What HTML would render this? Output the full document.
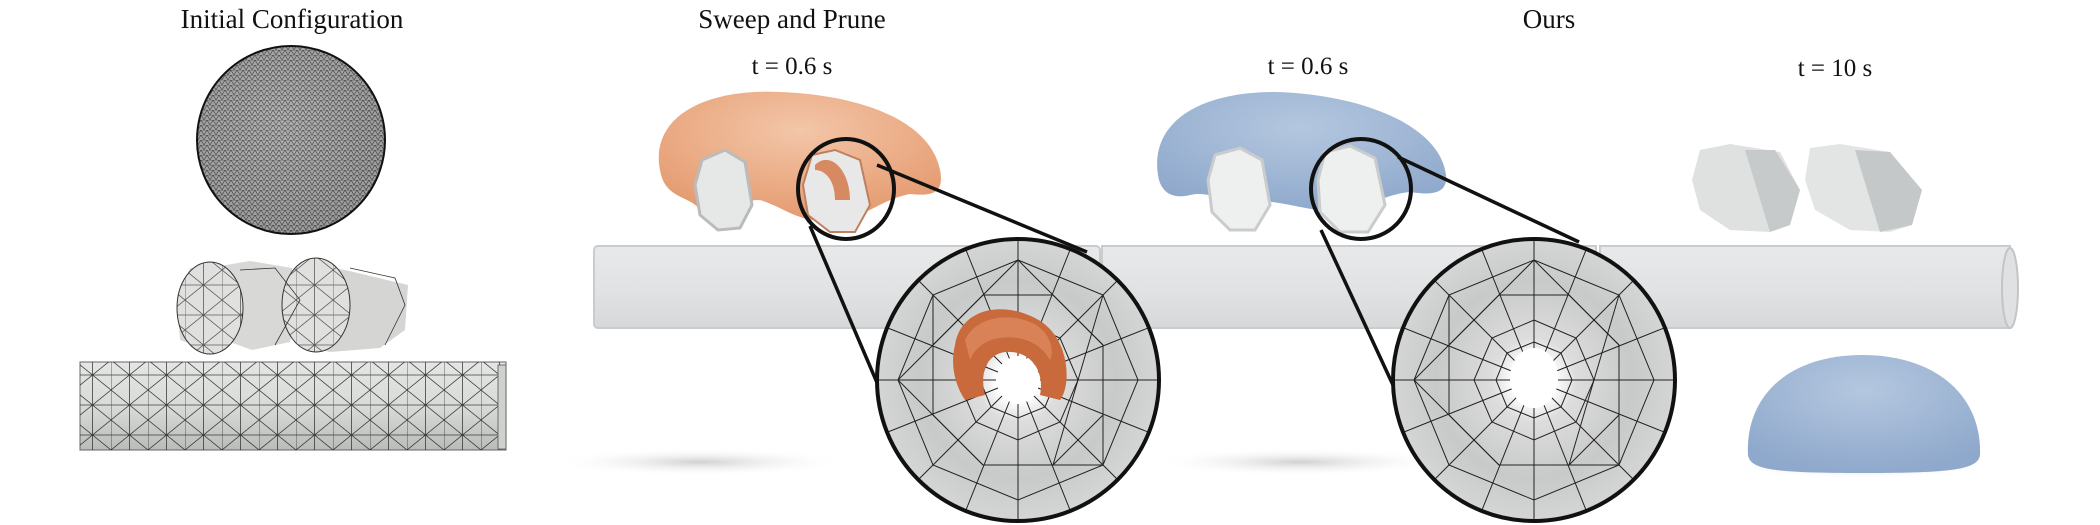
<!DOCTYPE html>
<html><head><meta charset="utf-8"><style>
html,body{margin:0;padding:0;background:#fff;width:2100px;height:525px;overflow:hidden}
svg{display:block}
text{font-family:"Liberation Serif",serif;fill:#111}
</style></head><body>
<svg width="2100" height="525" viewBox="0 0 2100 525" xmlns="http://www.w3.org/2000/svg">
<defs>
<pattern id="fine" width="6" height="5" patternUnits="userSpaceOnUse">
<rect width="6" height="5" fill="#a8a8a8"/>
<path d="M0 5L3 0L6 5M0 0H6" stroke="#222" stroke-width="0.6" fill="none"/>
</pattern>
<pattern id="tri" width="37" height="30" patternUnits="userSpaceOnUse">
<path d="M0 0L37 30M37 0L0 30M0 0V30M18.5 0V30M0 15H37" stroke="#222" stroke-width="0.8" fill="none"/>
</pattern>
<linearGradient id="cylg" x1="0" y1="0" x2="0" y2="1">
<stop offset="0" stop-color="#e4e6e4"/><stop offset="0.5" stop-color="#d9dbd9"/><stop offset="1" stop-color="#b9bcb9"/></linearGradient>
<radialGradient id="sph" cx="0.45" cy="0.4" r="0.6">
<stop offset="0" stop-color="#c8c8c8"/><stop offset="1" stop-color="#777"/></radialGradient>
<linearGradient id="rod" x1="0" y1="0" x2="0" y2="1">
<stop offset="0" stop-color="#e8e9ea"/><stop offset="0.5" stop-color="#e2e3e4"/><stop offset="1" stop-color="#d6d8da"/></linearGradient>
<radialGradient id="tun" cx="0.5" cy="0.5" r="0.5">
<stop offset="0" stop-color="#fff"/><stop offset="0.15" stop-color="#fff"/><stop offset="0.3" stop-color="#ddd"/><stop offset="0.7" stop-color="#c8c9c9"/><stop offset="1" stop-color="#d4d5d5"/></radialGradient>
<radialGradient id="orng" cx="0.5" cy="0.3" r="0.7">
<stop offset="0" stop-color="#f3c6a8"/><stop offset="1" stop-color="#e59a6f"/></radialGradient>
<radialGradient id="blu" cx="0.5" cy="0.3" r="0.7">
<stop offset="0" stop-color="#b4c7df"/><stop offset="1" stop-color="#8fa9cc"/></radialGradient>
<radialGradient id="shadow" cx="0.5" cy="0.5" r="0.5">
<stop offset="0" stop-color="#d0d0d0"/><stop offset="1" stop-color="#fff" stop-opacity="0"/></radialGradient>
<clipPath id="c1"><circle cx="1018" cy="380" r="140"/></clipPath>
<clipPath id="c2"><circle cx="1534" cy="380" r="140"/></clipPath>
<clipPath id="sc"><circle cx="291" cy="140" r="93"/></clipPath>
<clipPath id="cb"><rect x="80" y="362" width="426" height="88"/></clipPath>
<g id="web" stroke="#222" stroke-width="1" fill="none">
<path d="M0 -160 L0 -22 M113 -113 L16 -16 M160 0 L22 0 M113 113 L16 16 M0 160 L0 22 M-113 113 L-16 16 M-160 0 L-22 0 M-113 -113 L-16 -16 M60 -150 L8 -20 M150 -60 L20 -8 M150 60 L20 8 M60 150 L8 20 M-60 150 L-8 20 M-150 60 L-20 8 M-150 -60 L-20 -8 M-60 -150 L-8 -20"/>
<polygon points="0,-120 85,-85 120,0 85,85 0,120 -85,85 -120,0 -85,-85"/>
<polygon points="35,-85 85,-35 85,35 35,85 -35,85 -85,35 -85,-35 -35,-85"/>
<polygon points="0,-60 42,-42 60,0 42,42 0,60 -42,42 -60,0 -42,-42"/>
<polygon points="0,-38 27,-27 38,0 27,27 0,38 -27,27 -38,0 -27,-27"/>
<path d="M0 -120 L85 -35 L85 85 L-35 85 L-120 0 L-35 -85 Z M85 -85 L35 85 M-85 -85 L-85 35"/>
</g>
</defs>

<text x="292" y="28" font-size="27" text-anchor="middle">Initial Configuration</text>
<text x="792" y="28" font-size="27" text-anchor="middle">Sweep and Prune</text>
<text x="792" y="74" font-size="25" text-anchor="middle">t = 0.6 s</text>
<text x="1549" y="28" font-size="27" text-anchor="middle">Ours</text>
<text x="1308" y="74" font-size="25" text-anchor="middle">t = 0.6 s</text>
<text x="1835" y="76" font-size="25" text-anchor="middle">t = 10 s</text>

<!-- sphere -->
<circle cx="291" cy="140" r="94" fill="url(#sph)"/>
<g clip-path="url(#sc)" opacity="0.75"><rect x="190" y="40" width="200" height="200" fill="url(#fine)"/></g>
<circle cx="291" cy="140" r="94" fill="none" stroke="#111" stroke-width="2"/>

<!-- small cylinders -->
<path d="M220 266 L250 261 L292 268 L300 300 L290 342 L252 350 L230 342 L208 350 L180 340 L177 300 L190 268 Z" fill="#d8d8d6"/>
<ellipse cx="210" cy="308" rx="33" ry="46" fill="#e0e1df" stroke="#333" stroke-width="1"/>
<g opacity="0.7"><ellipse cx="210" cy="308" rx="33" ry="46" fill="url(#tri)"/></g>
<path d="M300 262 L345 270 L408 285 L405 330 L380 348 L330 352 L300 345 Z" fill="#d5d6d4"/>
<ellipse cx="316" cy="305" rx="34" ry="47" fill="#e0e1df" stroke="#333" stroke-width="1"/>
<g opacity="0.7"><ellipse cx="316" cy="305" rx="34" ry="47" fill="url(#tri)"/></g>
<path d="M240 270 L275 268 L300 300 L275 345" stroke="#333" fill="none" stroke-width="0.8"/>
<path d="M350 268 L395 278 L405 305 L385 345" stroke="#333" fill="none" stroke-width="0.8"/>

<!-- bottom cylinder -->
<rect x="80" y="362" width="426" height="88" fill="url(#cylg)" stroke="#666" stroke-width="1"/>
<g clip-path="url(#cb)" opacity="0.85"><rect x="80" y="362" width="426" height="88" fill="url(#tri)"/></g>
<rect x="498" y="365" width="8" height="84" fill="#cfd1cf" stroke="#555" stroke-width="0.8"/>

<!-- shadows -->
<ellipse cx="700" cy="462" rx="150" ry="14" fill="url(#shadow)"/>
<ellipse cx="1300" cy="462" rx="150" ry="14" fill="url(#shadow)"/>
<ellipse cx="1860" cy="468" rx="130" ry="10" fill="url(#shadow)"/>

<!-- rods -->
<rect x="594" y="246" width="506" height="82" rx="4" fill="url(#rod)" stroke="#c9cbcd" stroke-width="2"/>
<rect x="1102" y="246" width="494" height="82" fill="url(#rod)" stroke="#c9cbcd" stroke-width="2"/>
<rect x="1600" y="246" width="410" height="82" fill="url(#rod)" stroke="#c9cbcd" stroke-width="2"/>
<ellipse cx="2010" cy="288" rx="8" ry="40" fill="#dfe1e2" stroke="#c2c5c7" stroke-width="2"/>

<!-- orange blob -->
<path d="M660 170 C650 120 700 88 780 92 C860 95 930 120 940 170 C945 195 930 196 910 194 C880 200 870 215 840 220 C800 225 790 210 760 200 C730 200 720 225 700 210 C690 195 665 200 660 170 Z" fill="url(#orng)"/>
<path d="M702 160 L725 150 L745 162 L752 205 L740 228 L718 230 L700 215 L695 185 Z" fill="#e6e7e7" stroke="#bbb" stroke-width="3"/>
<path d="M812 155 L835 150 L860 160 L870 205 L855 232 L830 232 L808 215 L803 185 Z" fill="#e8e8e8" stroke="#c08060" stroke-width="2"/>
<path d="M815 165 C830 150 850 170 850 200 L835 200 C835 180 825 170 815 170 Z" fill="#d78a62"/>
<ellipse cx="846" cy="189" rx="48" ry="50" fill="none" stroke="#111" stroke-width="4"/>

<!-- blue blob -->
<path d="M1158 175 C1150 125 1195 92 1275 92 C1360 94 1440 125 1446 175 C1448 195 1430 195 1410 192 C1380 195 1365 210 1340 212 C1300 210 1280 200 1260 202 C1230 205 1210 190 1190 195 C1170 200 1160 190 1158 175 Z" fill="url(#blu)"/>
<path d="M1215 155 L1240 148 L1262 160 L1270 205 L1255 230 L1230 230 L1212 212 L1208 180 Z" fill="#eeefef" stroke="#c9cbcd" stroke-width="3"/>
<path d="M1325 152 L1350 146 L1375 158 L1385 205 L1368 232 L1340 232 L1320 212 L1318 180 Z" fill="#eeefef" stroke="#c9cbcd" stroke-width="3"/>
<ellipse cx="1361" cy="189" rx="50" ry="50" fill="none" stroke="#111" stroke-width="4"/>

<!-- right cylinders -->
<path d="M1700 150 L1730 144 L1780 152 L1800 190 L1790 225 L1770 232 L1730 230 L1700 210 L1692 180 Z" fill="#dfe1e1"/>
<path d="M1745 150 L1775 150 L1800 190 L1790 225 L1770 232 Z" fill="#c7cacb"/>
<path d="M1810 148 L1840 144 L1890 152 L1922 190 L1912 225 L1890 232 L1850 230 L1815 210 L1805 180 Z" fill="#e3e5e5"/>
<path d="M1855 150 L1890 152 L1922 190 L1912 225 L1880 232 Z" fill="#c5c8c9"/>

<!-- blue dome -->
<path d="M1748 455 C1745 395 1790 355 1862 355 C1935 355 1982 395 1980 455 C1978 470 1950 473 1862 473 C1775 473 1750 470 1748 455 Z" fill="url(#blu)"/>

<!-- connectors -->
<line x1="877" y1="165" x2="1087" y2="252" stroke="#111" stroke-width="3.5"/>
<line x1="810" y1="226" x2="878" y2="385" stroke="#111" stroke-width="3.5"/>
<line x1="1398" y1="157" x2="1579" y2="242" stroke="#111" stroke-width="3.5"/>
<line x1="1321" y1="230" x2="1393" y2="385" stroke="#111" stroke-width="3.5"/>

<!-- magnifier 1 -->
<circle cx="1018" cy="380" r="140" fill="url(#tun)"/>
<g clip-path="url(#c1)">
<use href="#web" x="1018" y="380"/>
<path d="M955 345 C960 310 1000 300 1035 318 C1070 335 1072 385 1060 400 L1040 395 C1045 370 1030 350 1005 352 C985 355 980 375 985 395 L965 400 C955 385 950 365 955 345 Z" fill="#c96a3c"/>
<path d="M965 340 C975 318 1005 312 1030 322 C1050 330 1055 350 1050 360 C1040 342 1020 335 1000 338 C985 340 975 348 970 360 Z" fill="#d98258"/>
<ellipse cx="1018" cy="380" rx="20" ry="24" fill="#fff"/>
</g>
<circle cx="1018" cy="380" r="141" fill="none" stroke="#111" stroke-width="4"/>

<!-- magnifier 2 -->
<circle cx="1534" cy="380" r="140" fill="url(#tun)"/>
<g clip-path="url(#c2)">
<use href="#web" x="1534" y="380"/>
</g>
<ellipse cx="1534" cy="378" rx="24" ry="30" fill="#fff"/>
<circle cx="1534" cy="380" r="141" fill="none" stroke="#111" stroke-width="4"/>
</svg>
</body></html>
